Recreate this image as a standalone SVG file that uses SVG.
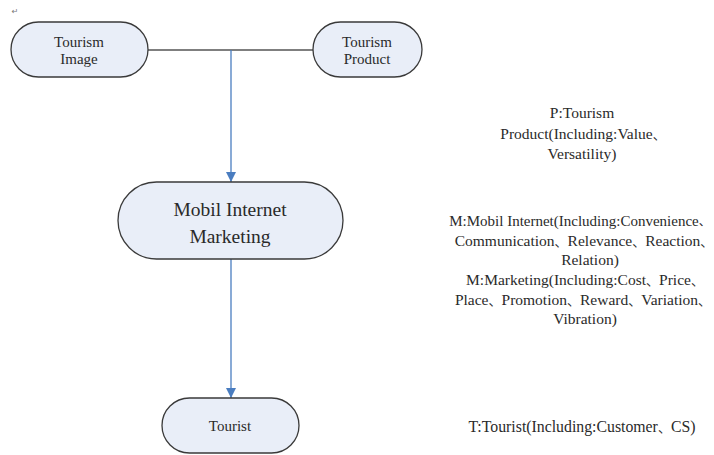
<svg xmlns="http://www.w3.org/2000/svg" width="714" height="455" viewBox="0 0 714 455">
  <style>
    .node { fill: #e9eef8; stroke: #3a3a3a; stroke-width: 1.3; }
    text { font-family: "Liberation Serif", "Times New Roman", serif; fill: #2a2a2a; text-anchor: middle; }
    .small { font-size: 15px; }
    .big { font-size: 19.5px; }
    .note { font-size: 15.5px; }
    .cjk { font-family: "Noto Sans CJK SC", sans-serif; font-size: 13px; }
    .link { fill: none; stroke-width: 1.3; }
  </style>
  <defs>
    <marker id="arrow" viewBox="0 0 10 10" refX="10" refY="5" markerWidth="10" markerHeight="10" markerUnits="userSpaceOnUse" orient="auto">
      <path d="M0,0 L10,5 L0,10 Z" fill="#4a7dc0"/>
    </marker>
  </defs>
  <rect width="714" height="455" fill="#ffffff"/>

  <!-- paragraph mark -->
  <text x="15" y="14" style="font-family: 'DejaVu Sans', sans-serif; font-size: 8px; fill: #777;">↵</text>

  <g id="connectors">
    <path class="link" d="M148,50 H313" stroke="#555555"/>
    <path class="link" d="M231,50 V182" stroke="#4a7dc0" marker-end="url(#arrow)"/>
    <path class="link" d="M231,259 V398" stroke="#4a7dc0" marker-end="url(#arrow)"/>
  </g>

  <g id="tourism-image">
    <rect class="node" x="11" y="22" width="137" height="55" rx="27.5"/>
    <text class="small" x="79" y="47">Tourism</text>
    <text class="small" x="79" y="64">Image</text>
  </g>

  <g id="tourism-product">
    <rect class="node" x="313" y="22" width="109" height="55" rx="27.5"/>
    <text class="small" x="367" y="47">Tourism</text>
    <text class="small" x="367" y="64">Product</text>
  </g>

  <g id="mobil-internet-marketing">
    <rect class="node" x="118" y="182" width="225" height="77" rx="38.5"/>
    <text class="big" x="230" y="216">Mobil Internet</text>
    <text class="big" x="230" y="243">Marketing</text>
  </g>

  <g id="tourist">
    <rect class="node" x="162" y="398" width="137" height="55" rx="27.5"/>
    <text class="small" x="230" y="431">Tourist</text>
  </g>

  <g id="notes">
    <text class="note" x="582" y="118">P:Tourism</text>
    <text class="note" x="583" y="139">Product(Including:Value<tspan class="cjk">、</tspan></text>
    <text class="note" x="582" y="159">Versatility)</text>

    <text class="note" x="580" y="226" style="font-size: 15px">M:Mobil Internet(Including:Convenience<tspan class="cjk" style="font-size: 12px">、</tspan></text>
    <text class="note" x="584" y="246">Communication<tspan class="cjk">、</tspan>Relevance<tspan class="cjk">、</tspan>Reaction<tspan class="cjk">、</tspan></text>
    <text class="note" x="590" y="265">Relation)</text>
    <text class="note" x="585" y="285">M:Marketing(Including:Cost<tspan class="cjk">、</tspan>Price<tspan class="cjk">、</tspan></text>
    <text class="note" x="583" y="305">Place<tspan class="cjk">、</tspan>Promotion<tspan class="cjk">、</tspan>Reward<tspan class="cjk">、</tspan>Variation<tspan class="cjk">、</tspan></text>
    <text class="note" x="585" y="324">Vibration)</text>

    <text class="note" x="582" y="432" style="font-size: 15.8px">T:Tourist(Including:Customer<tspan class="cjk">、</tspan>CS)</text>
  </g>
</svg>
